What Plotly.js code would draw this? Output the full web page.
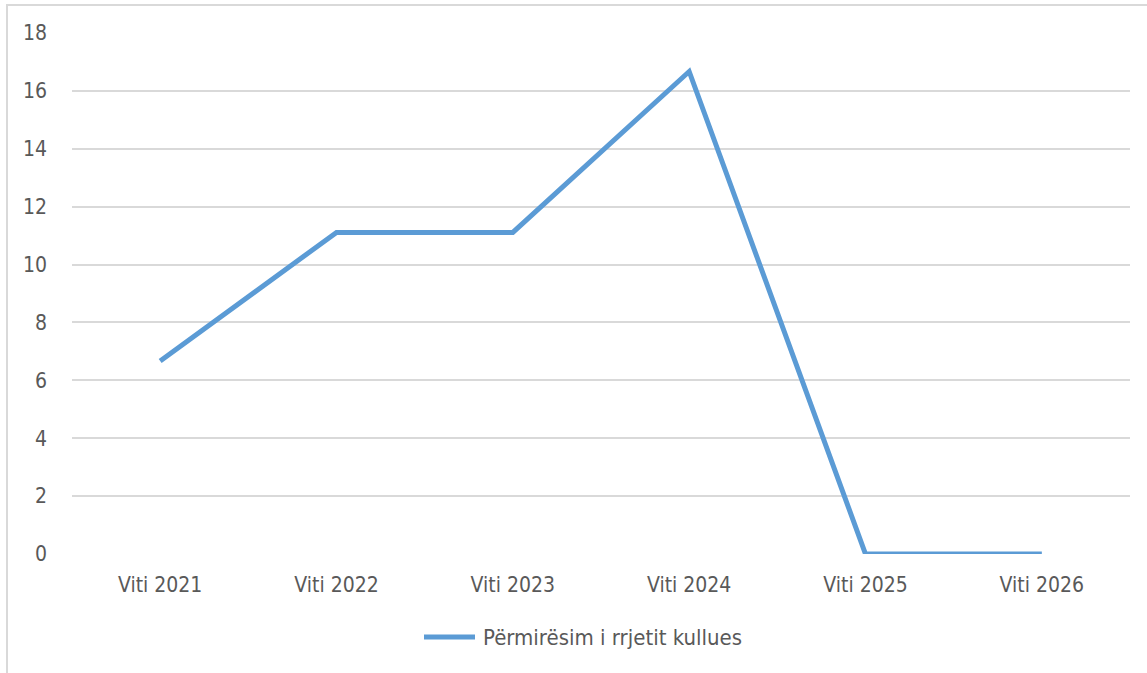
<!DOCTYPE html>
<html>
<head>
<meta charset="utf-8">
<script src="https://cdn.plot.ly/plotly-3.0.1.min.js"></script>
<style>
html,body{margin:0;padding:0;background:#fff;}
#wrap{position:relative;width:1147px;height:673px;overflow:hidden;}
#frame{position:absolute;left:6px;top:4px;width:1160px;height:700px;border:2px solid #d9d9d9;box-sizing:border-box;pointer-events:none;}
#chart{position:absolute;left:0;top:0;width:1147px;height:673px;}
</style>
</head>
<body>
<div id="wrap">
<div id="chart"></div>
<div id="frame"></div>
</div>
<script>
const categories = ["Viti 2021","Viti 2022","Viti 2023","Viti 2024","Viti 2025","Viti 2026"];
const seriesName = "Përmirësim i rrjetit kullues";
const values = [6.67, 11.11, 11.11, 16.67, 0, 0];
const yTicks = [0,2,4,6,8,10,12,14,16,18];

const fontFam = "DejaVu Sans Condensed, DejaVu Sans, sans-serif";
const lineColor = "#5b9bd5";
const W = 1147, H = 673;
const M = {l: 72, r: 17, t: 33, b: 119};
const pw = W - M.l - M.r, ph = H - M.t - M.b;
// pixel -> paper helpers for the custom legend
const px = x => (x - M.l) / pw;
const py = y => (H - M.b - y) / ph;

const trace = {
  type: "scatter",
  mode: "lines",
  x: categories,
  y: values,
  name: seriesName,
  line: {color: lineColor, width: 5},
  showlegend: false
};
const legY = 637;
const layout = {
  width: W, height: H,
  margin: M,
  paper_bgcolor: "rgba(0,0,0,0)",
  plot_bgcolor: "#fff",
  font: {family: fontFam, size: 21, color: "#595959"},
  showlegend: false,
  xaxis: {
    type: "category", showgrid: false, zeroline: false, showline: false,
    ticks: "", ticklabelstandoff: 16, tickfont: {family: fontFam, size: 21, color: "#595959"},
    range: [-0.5, categories.length - 0.5]
  },
  yaxis: {
    range: [0, 18], tickvals: yTicks, ticktext: yTicks.map(String),
    showgrid: true, gridcolor: "#d9d9d9", gridwidth: 2,
    zeroline: false, showline: false, ticks: "", ticklabelstandoff: 24,
    tickfont: {family: fontFam, size: 21, color: "#595959"}
  },
  shapes: [{
    type: "line", xref: "paper", yref: "paper",
    x0: px(424), x1: px(475), y0: py(legY), y1: py(legY),
    line: {color: lineColor, width: 5}
  }],
  annotations: [{
    xref: "paper", yref: "paper", x: px(481), y: py(legY),
    xanchor: "left", yanchor: "middle", showarrow: false,
    text: seriesName, font: {family: fontFam, size: 22, color: "#595959"}
  }]
};
Plotly.newPlot("chart", [trace], layout, {displayModeBar: false, staticPlot: true});
</script>
</body>
</html>
